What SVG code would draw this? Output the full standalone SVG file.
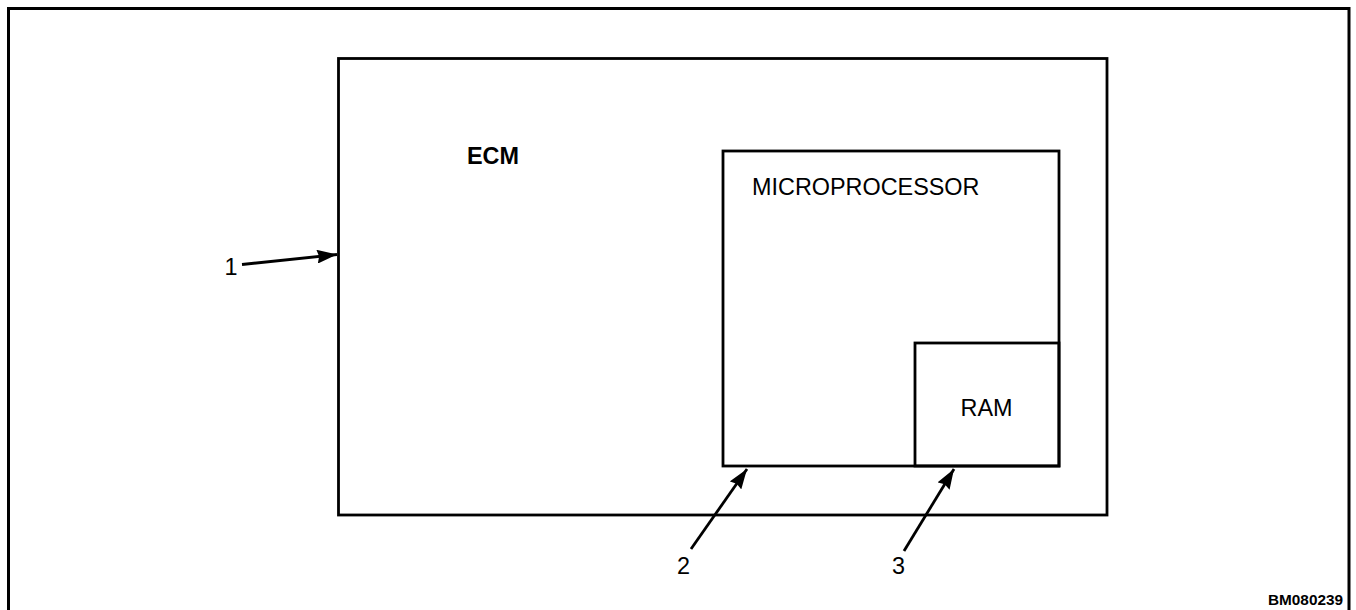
<svg xmlns="http://www.w3.org/2000/svg" width="1356" height="610" viewBox="0 0 1356 610">
<style>
.box{fill:none;stroke:#000;stroke-width:2.8}
.lbl{font-family:"Liberation Sans",Arial,sans-serif;font-size:23.4px;fill:#000}
.b{font-weight:bold}
.ldr{stroke:#000;stroke-width:2.8;fill:none}
</style>
<defs>
<marker id="ah" viewBox="0 0 20 14" refX="20" refY="7" markerWidth="20" markerHeight="14" markerUnits="userSpaceOnUse" orient="auto">
<path d="M0,0 L20,7 L0,14 L2,7 Z" fill="#000"/>
</marker>
</defs>
<rect width="1356" height="610" fill="#fff"/>
<g id="frame">
<path d="M8.5,612 V8.5 H1349 V612" fill="none" stroke="#000" stroke-width="3"/>
</g>
<g id="ecm">
<rect class="box" x="338.5" y="58.5" width="768.5" height="456.5" stroke-width="3"/>
<text class="lbl b" x="467" y="164">ECM</text>
</g>
<g id="microprocessor">
<rect class="box" x="723" y="151" width="336" height="315"/>
<text class="lbl" x="752" y="195">MICROPROCESSOR</text>
</g>
<g id="ram">
<rect class="box" x="915" y="343" width="144" height="123"/>
<text class="lbl" x="986.5" y="416" text-anchor="middle">RAM</text>
</g>
<g id="connectors">
<line class="ldr" x1="242" y1="264.5" x2="337" y2="254.5" marker-end="url(#ah)"/>
<line class="ldr" x1="691" y1="549" x2="747" y2="469" marker-end="url(#ah)"/>
<line class="ldr" x1="904" y1="551" x2="954" y2="469" marker-end="url(#ah)"/>
</g>
<g id="labels">
<text class="lbl" x="231" y="275" text-anchor="middle">1</text>
<text class="lbl" x="683.5" y="574" text-anchor="middle">2</text>
<text class="lbl" x="898.5" y="574" text-anchor="middle">3</text>
<text class="lbl b" x="1343" y="605" text-anchor="end" style="font-size:14px" textLength="75" lengthAdjust="spacingAndGlyphs">BM080239</text>
</g>
</svg>
